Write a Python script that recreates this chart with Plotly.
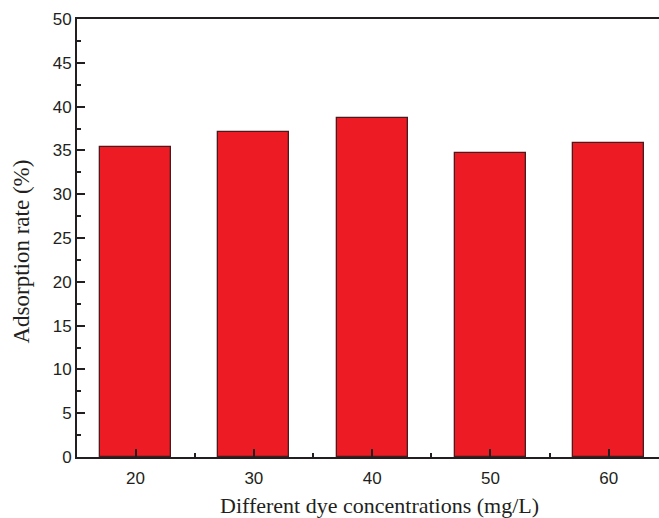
import plotly.graph_objects as go

# Adsorption rate at each dye concentration
concentrations = [20, 30, 40, 50, 60]
adsorption_rate = [35.38, 37.06, 38.66, 34.73, 35.87]

x_title = "Different dye concentrations (mg/L)"
y_title = "Adsorption rate (%)"

bar_fill = "#ED1C24"
bar_edge = "#4A1A1C"
ink = "#231F20"

fig = go.Figure(
    go.Bar(
        x=concentrations,
        y=adsorption_rate,
        width=6,
        marker=dict(color=bar_fill, line=dict(color=bar_edge, width=1.3)),
    )
)

tick_font = dict(family="Liberation Sans, Arial, sans-serif", size=17, color=ink)
serif = "Liberation Serif, Times New Roman, serif"

fig.update_layout(
    width=659,
    height=518,
    margin=dict(l=77, r=0, t=19, b=61),
    paper_bgcolor="white",
    plot_bgcolor="white",
    showlegend=False,
    bargap=0,
    annotations=[
        dict(
            text=x_title, xref="paper", yref="paper", x=0.5206, y=0,
            xanchor="center", yanchor="middle", yshift=-48, showarrow=False,
            font=dict(family=serif, size=22, color=ink),
        ),
        dict(
            text=y_title, xref="paper", yref="paper", x=0, y=0.469,
            xanchor="center", yanchor="middle", xshift=-55, textangle=-90,
            showarrow=False, font=dict(family=serif, size=23, color=ink),
        ),
    ],
)

fig.update_xaxes(
    range=[15.05, 64.25],
    tickvals=concentrations,
    ticktext=[str(c) for c in concentrations],
    ticks="inside",
    ticklen=8,
    tickwidth=1.5,
    tickcolor=ink,
    ticklabelstandoff=5,
    minor=dict(dtick=10, tick0=25, ticks="inside", ticklen=4, tickwidth=1.5, tickcolor=ink),
    showline=True,
    linecolor=ink,
    linewidth=2,
    mirror=True,
    showgrid=False,
    zeroline=False,
    tickfont=tick_font,
)

fig.update_yaxes(
    range=[0, 50],
    dtick=5,
    tick0=0,
    ticks="inside",
    ticklen=8,
    tickwidth=1.5,
    tickcolor=ink,
    minor=dict(dtick=2.5, ticks="inside", ticklen=4, tickwidth=1.5, tickcolor=ink),
    showline=True,
    linecolor=ink,
    linewidth=2,
    mirror=False,
    showgrid=False,
    zeroline=False,
    tickfont=tick_font,
)

fig.write_html("out.html")
